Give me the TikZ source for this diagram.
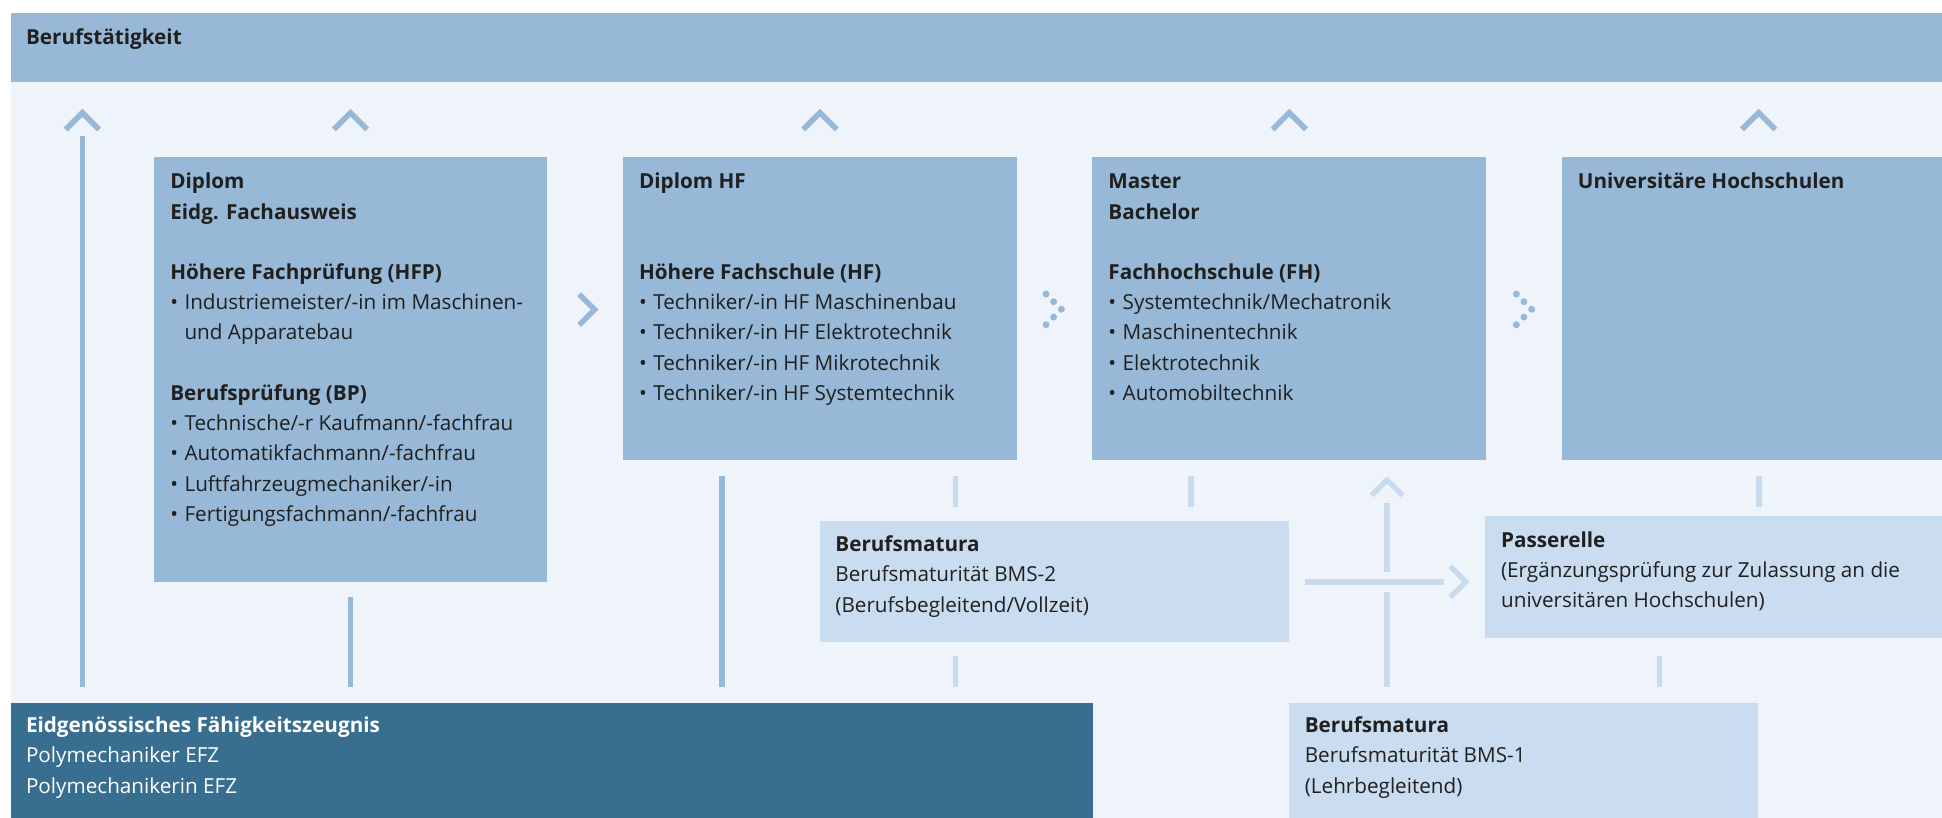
\documentclass[tikz,border=0pt]{standalone}
\usepackage{fontspec}
\setmainfont{Open Sans}
\usetikzlibrary{calc}
\definecolor{midblue}{RGB}{151,184,214}
\definecolor{paleblue}{RGB}{239,244,251}
\definecolor{lightbox}{RGB}{202,220,240}
\definecolor{lightln}{RGB}{199,218,238}
\definecolor{darkbox}{RGB}{56,110,144}
\definecolor{txtc}{RGB}{32,32,32}
\newcommand\firstln{\rule{0pt}{17pt}}
\newcommand\bitem{\makebox[11.5pt][l]{•}}
\newcommand\bcont{\hspace*{11.5pt}}
\begin{document}
\begin{tikzpicture}[x=1pt,y=-1pt,
  every node/.style={inner sep=0pt, outer sep=0pt},
  boxA/.style={anchor=north west, fill=midblue, minimum width=318pt},
  boxL/.style={anchor=north west, fill=lightbox, minimum width=378.5pt},
  boxD/.style={anchor=north west, fill=darkbox},
  txt/.style={anchor=north west, align=left, text=txtc, font=\fontsize{16.7}{24.4}\selectfont},
  wtxt/.style={txt, text=white},
  midline/.style={draw=midblue, line width=4.5pt},
  lightline/.style={draw=lightln, line width=4.5pt},
  chev/.style={draw=midblue, line width=4.5pt, line join=miter},
  lchev/.style={draw=lightln, line width=4.2pt, line join=miter},
  dotc/.style={fill=midblue}
]
\useasboundingbox (0,0) rectangle (1568,660);
\clip (0,0) rectangle (1568,660);
% background
\fill[paleblue] (8.5,66.5) rectangle (1590,680);
\node[anchor=north west, fill=midblue, minimum width=1590pt, minimum height=55.7pt] (band) at (8.5,10.8) {};
\node[txt] (bandt) at ($(band.north west)+(12.5,8)$) {\firstln\textbf{Berufstätigkeit}};

% upper boxes
\node[boxA, minimum height=342.7pt] (b1) at (124,127) {};
\node[boxA, minimum height=244.5pt] (b2) at (503,127) {};
\node[boxA, minimum height=244.5pt] (b3) at (882,127) {};
\node[boxA, minimum height=244.5pt] (b4) at (1261,127) {};

\node[txt] (t1) at ($(b1.north west)+(13.5,8.5)$) {\firstln\textbf{Diplom}\\
\textbf{Eidg. Fachausweis}\\[24.4pt]
\textbf{Höhere Fachprüfung (HFP)}\\
\bitem Industriemeister/-in im Maschinen-\\
\bcont und Apparatebau\\[24.4pt]
\textbf{Berufsprüfung (BP)}\\
\bitem Technische/-r Kaufmann/-fachfrau\\
\bitem Automatikfachmann/-fachfrau\\
\bitem Luftfahrzeugmechaniker/-in\\
\bitem Fertigungsfachmann/-fachfrau};

\node[txt] (t2) at ($(b2.north west)+(13,8.5)$) {\firstln\textbf{Diplom HF}\\[48.8pt]
\textbf{Höhere Fachschule (HF)}\\
\bitem Techniker/-in HF Maschinenbau\\
\bitem Techniker/-in HF Elektrotechnik\\
\bitem Techniker/-in HF Mikrotechnik\\
\bitem Techniker/-in HF Systemtechnik};

\node[txt] (t3) at ($(b3.north west)+(13,8.5)$) {\firstln\textbf{Master}\\
\textbf{Bachelor}\\[24.4pt]
\textbf{Fachhochschule (FH)}\\
\bitem Systemtechnik/Mechatronik\\
\bitem Maschinentechnik\\
\bitem Elektrotechnik\\
\bitem Automobiltechnik};

\node[txt] (t4) at ($(b4.north west)+(13,8.5)$) {\firstln\textbf{Universitäre Hochschulen}};

% lower boxes
\node[boxL, minimum height=97.3pt] (bms2) at (662,420.7) {};
\node[boxL, minimum height=98pt] (pass) at (1199,417) {};
\node[boxL, minimum height=100pt] (bms1) at (1041,567.4) {};
\node[boxD, minimum width=874pt, minimum height=100pt] (efz) at (8.5,567.4) {};

\node[txt] (tbms2) at ($(bms2.north west)+(12.5,7.7)$) {\firstln\textbf{Berufsmatura}\\
Berufsmaturität BMS-2\\
(Berufsbegleitend/Vollzeit)};
\node[txt] (tpass) at ($(pass.north west)+(13,7.7)$) {\firstln\textbf{Passerelle}\\
(Ergänzungsprüfung zur Zulassung an die\\
universitären Hochschulen)};
\node[txt] (tbms1) at ($(bms1.north west)+(12.5,7.2)$) {\firstln\textbf{Berufsmatura}\\
Berufsmaturität BMS-1\\
(Lehrbegleitend)};
\node[wtxt] (tefz) at ($(efz.north west)+(12.5,7.2)$) {\firstln\textbf{Eidgenössisches Fähigkeitszeugnis}\\
Polymechaniker EFZ\\
Polymechanikerin EFZ};

% up chevrons towards Berufstaetigkeit
\coordinate (c0) at (66.5,91);
\coordinate (c1) at (b1.north |- c0);
\coordinate (c2) at (b2.north |- c0);
\coordinate (c3) at (b3.north |- c0);
\coordinate (c4) at (b4.north |- c0);
\foreach \c in {c0,c1,c2,c3,c4}
  \draw[chev] ($(\c)+(-13.5,13.5)$) -- (\c) -- ($(\c)+(13.5,13.5)$);

% mid-blue connectors
\draw[midline, shorten >=12.4pt] ($(c0)+(0,19)$) -- (c0 |- efz.north);
\draw[midline, shorten <=12.2pt, shorten >=12.4pt] (b1.south) -- (b1.south |- efz.north);
\coordinate (l3) at ($(b2.south west)+(80,0)$);
\draw[midline, shorten <=12.5pt, shorten >=12.4pt] (l3) -- (l3 |- efz.north);

% solid chevron b1 -> b2
\coordinate (r1) at ($(b1.east)!0.625!(b2.west)$);
\draw[chev] ($(r1 |- b2.north)+(-12.5,110.5)$) -- (r1 |- 0,250) -- ($(r1 |- b2.north)+(-12.5,135.5)$);

% dotted chevrons
\coordinate (d1) at (857,249.7);
\coordinate (d2) at (1236.7,249.7);
\foreach \d in {d1,d2}{
  \foreach \dx/\dy in {-12.4/-12.3,-6.3/-6.1,0/0,-6.3/6.3,-12.4/12.5}
    \fill[dotc] ($(\d)+(\dx,\dy)$) circle[radius=2.8pt];
}

% light connectors
\coordinate (l4) at ($(bms2.north west)+(109.5,0)$);
\draw[lightline, shorten <=12.5pt, shorten >=11.2pt] (l4 |- b2.south) -- (l4);
\draw[lightline, shorten <=12pt, shorten >=12.4pt] (l4 |- bms2.south) -- (l4 |- efz.north);
\coordinate (l5) at ($(bms2.north west)+(299.5,0)$);
\draw[lightline, shorten <=12.5pt, shorten >=11.2pt] (l5 |- b3.south) -- (l5);
\draw[lightline, shorten <=12.5pt, shorten >=8pt] (b4.south) -- (b4.south |- pass.north);
\coordinate (l7) at ($(bms1.north west)+(299,0)$);
\draw[lightline, shorten <=15pt, shorten >=12.4pt] (l7 |- pass.south) -- (l7);

% BMS-2 -> Passerelle
\coordinate (hy) at (bms2.east |- 0,469.7);
\coordinate (hend) at (pass.west |- hy);
\draw[lightline, line width=4.8pt, shorten <=13pt, shorten >=33.5pt] (hy) -- (hend);
\coordinate (ha) at ($(hend)+(-15.5,0)$);
\draw[lchev] ($(ha)+(-12.5,-12.5)$) -- (ha) -- ($(ha)+(-12.5,12.5)$);

% BMS-1 -> FH
\coordinate (vx) at (1120,567.4);
\coordinate (cross) at (vx |- hy);
\draw[lightline] (vx) ++(0,-12.4) -- ($(cross)+(0,8)$);
\draw[lightline] ($(cross)+(0,-8.1)$) -- ($(vx |- b3.south)+(0,34.5)$);
\coordinate (va) at ($(vx |- b3.south)+(0,16)$);
\draw[lchev] ($(va)+(-12.5,12.5)$) -- (va) -- ($(va)+(12.5,12.5)$);
\end{tikzpicture}
\end{document}
